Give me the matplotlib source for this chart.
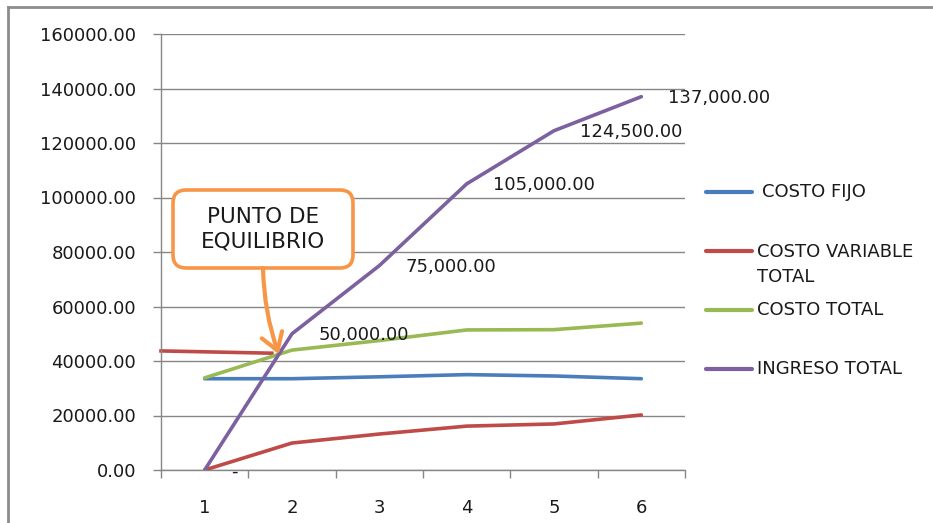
import matplotlib
matplotlib.use("Agg")
import matplotlib.pyplot as plt
from matplotlib.patches import FancyBboxPatch
from matplotlib.lines import Line2D
from matplotlib.ticker import FuncFormatter, FixedLocator

# ---------------- data ----------------
periodos = [1, 2, 3, 4, 5, 6]
costo_fijo = [33500, 33500, 34200, 35000, 34500, 33500]
costo_variable_total = [0, 9900, 13200, 16100, 16900, 20200]
costo_total = [33800, 44000, 47500, 51400, 51500, 53900]
ingreso_total = [0, 50000, 75000, 105000, 124500, 137000]

series_labels = ["COSTO FIJO", "COSTO VARIABLE\nTOTAL", "COSTO TOTAL", "INGRESO TOTAL"]
series_colors = ["#4A7EBB", "#BE4B48", "#98B954", "#7D60A0"]

y_ticks = [0, 20000, 40000, 60000, 80000, 100000, 120000, 140000, 160000]
linea_equilibrio_inicio = 43700
callout_text = "PUNTO DE\nEQUILIBRIO"

FONT = "DejaVu Sans"
plt.rcParams["font.family"] = [FONT]

fig = plt.figure(figsize=(9.33, 5.23), dpi=100)
W, H = 933, 523
ax = fig.add_axes([161 / W, 1 - 470 / H, (685 - 161) / W, (470 - 34) / H])

all_series = [costo_fijo, costo_variable_total, costo_total, ingreso_total]
for vals, col in zip(all_series, series_colors):
    ax.plot(periodos, vals, color=col, lw=2.6, solid_capstyle="round", zorder=3)

ax.set_xlim(0.5, 6.5)
ax.set_ylim(0, 160000)
ax.yaxis.set_major_locator(FixedLocator(y_ticks))
ax.yaxis.set_major_formatter(FuncFormatter(lambda v, p: f"{v:.2f}"))
ax.set_xticks(periodos)
ax.set_xticklabels([str(p) for p in periodos])
ax.set_xticks([p - 0.5 for p in periodos] + [periodos[-1] + 0.5], minor=True)
ax.tick_params(axis="x", which="major", length=0, pad=21, labelsize=13, colors="#1a1a1a")
ax.tick_params(axis="x", which="minor", length=6, color="#868686", width=1)
ax.tick_params(axis="y", length=6, color="#868686", width=1, pad=12, labelsize=13, labelcolor="#1a1a1a")
ax.grid(axis="y", color="#868686", lw=1, zorder=0)
ax.set_axisbelow(True)
for s in ["top", "right"]:
    ax.spines[s].set_visible(False)
for s in ["left", "bottom"]:
    ax.spines[s].set_color("#868686")
    ax.spines[s].set_linewidth(1)

# data labels for ingreso total
for xv, yv in zip(periodos, ingreso_total):
    lab = f"{yv:,.2f}" if yv else "-"
    ax.annotate(lab, (xv, yv), xytext=(19, -1), textcoords="offset points",
                ha="left", va="center", fontsize=13, color="#1a1a1a", zorder=4)

# break-even point: intersection of ingreso total and costo total between periods 1 and 2
d0 = ingreso_total[0] - costo_total[0]
d1 = ingreso_total[1] - costo_total[1]
t = d0 / (d0 - d1)
x_be = periodos[0] + t * (periodos[1] - periodos[0])
y_be = ingreso_total[0] + t * (ingreso_total[1] - ingreso_total[0])

ax.plot([0.5, x_be - 0.08], [linea_equilibrio_inicio, y_be + 400], color="#BE4B48", lw=2.6,
        zorder=2, clip_on=False)

# callout box (axes fraction)
orange = "#F79646"
bx0, bx1 = (173 - 161) / 524, (353 - 161) / 524
by0, by1 = (470 - 268) / 436, (470 - 190) / 436
box = FancyBboxPatch((bx0, by0), bx1 - bx0, by1 - by0,
                     boxstyle="round,pad=0,rounding_size=0.025",
                     mutation_aspect=524 / 436,
                     transform=ax.transAxes, facecolor="white", edgecolor=orange,
                     lw=2.6, zorder=5, clip_on=False)
ax.add_patch(box)
ax.text((bx0 + bx1) / 2, (by0 + by1) / 2, callout_text, transform=ax.transAxes,
        ha="center", va="center", fontsize=15.5, color="#1a1a1a", linespacing=1.25, zorder=6)
ax.annotate("", xy=(x_be, y_be), xycoords="data",
            xytext=((263 - 161) / 524, by0), textcoords="axes fraction",
            arrowprops=dict(arrowstyle="->,head_length=0.55,head_width=0.35", color=orange,
                            lw=3, mutation_scale=22, shrinkA=0, shrinkB=0,
                            connectionstyle="arc3,rad=0.08"),
            zorder=6)

# legend (manual)
leg_y = [192, 264.5, 310, 369]
leg_text_x = [762, 757, 757, 757]
for lab, col, yy, tx in zip(series_labels, series_colors, leg_y, leg_text_x):
    hy = yy if "\n" not in lab else 251
    fig.add_artist(Line2D([706 / W, 752 / W], [1 - hy / H, 1 - hy / H], color=col, lw=3,
                          solid_capstyle="round"))
    fig.text(tx / W, 1 - yy / H, lab, ha="left", va="center", fontsize=13,
             color="#1a1a1a", linespacing=1.45)

# chart border (top and left visible)
fig.add_artist(Line2D([8 / W, 1.0], [1 - 7 / H, 1 - 7 / H], color="#8c8c8c", lw=2))
fig.add_artist(Line2D([8 / W, 8 / W], [0.0, 1 - 7 / H], color="#8c8c8c", lw=2))

fig.savefig("out.png", dpi=100, facecolor="white")
